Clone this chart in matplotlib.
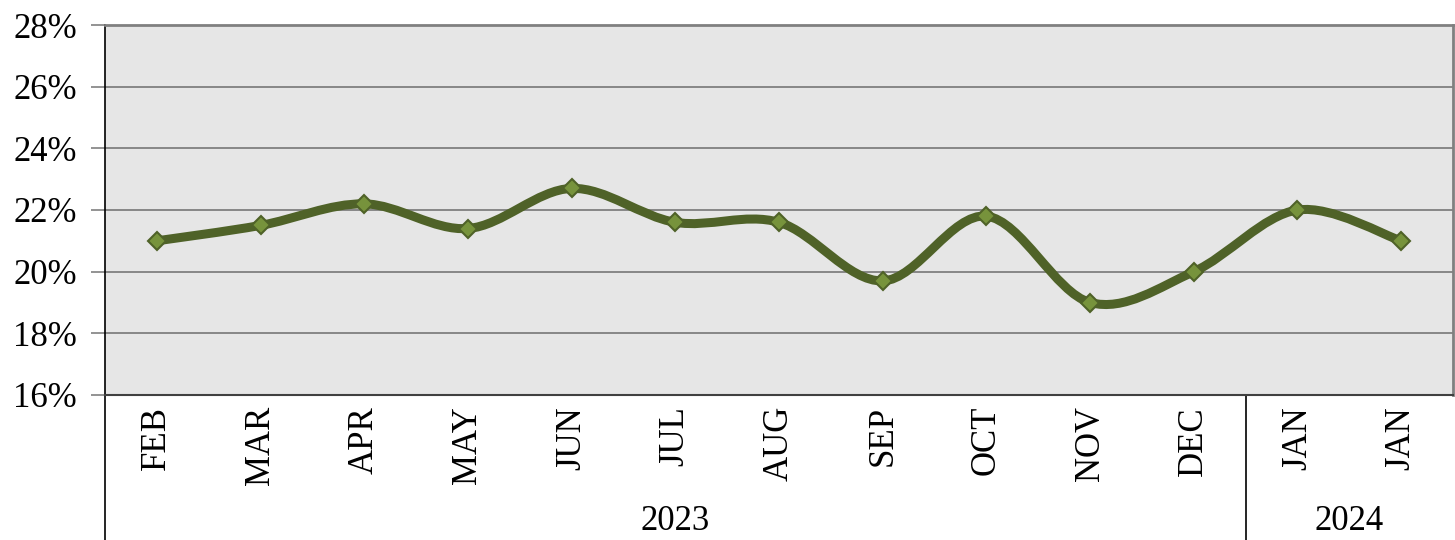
import matplotlib

matplotlib.use("Agg")

import matplotlib.pyplot as plt
import numpy as np
from matplotlib.lines import Line2D
from matplotlib.patches import PathPatch
from matplotlib.path import Path
from matplotlib.ticker import FuncFormatter

# ---- data ------------------------------------------------------------------
MONTHS = ["FEB", "MAR", "APR", "MAY", "JUN", "JUL", "AUG",
          "SEP", "OCT", "NOV", "DEC", "JAN", "JAN"]
VALUES = [21.0, 21.5, 22.2, 21.4, 22.7, 21.6, 21.6,
          19.7, 21.8, 19.0, 20.0, 22.0, 21.0]
YEARS = ["2023", "2024"]
YEAR_SPANS = [(0, 10), (11, 12)]  # first/last month index for each year

LINE = "#4f6228"
MARK = "#77933c"
GRID = "#808080"

plt.rcParams["font.family"] = ["Liberation Serif", "DejaVu Serif"]

fig = plt.figure(figsize=(14.55, 5.4), dpi=100)
ax = fig.add_axes([105 / 1455, 145 / 540, 1348 / 1455, 370 / 540])
ax.set_facecolor("#e6e6e6")

x = np.arange(len(VALUES))
y = np.array(VALUES)

# smoothed line, Excel-style bezier through the points
pts = np.column_stack([x, y]).astype(float)
padded = np.vstack([pts[0], pts, pts[-1]])
verts = [tuple(pts[0])]
codes = [Path.MOVETO]
for i in range(len(pts) - 1):
    p0, p1, p2, p3 = padded[i], padded[i + 1], padded[i + 2], padded[i + 3]
    c1 = p1 + (p2 - p0) / 6.0
    c2 = p2 - (p3 - p1) / 6.0
    verts += [tuple(c1), tuple(c2), tuple(p2)]
    codes += [Path.CURVE4] * 3
ax.add_patch(PathPatch(Path(verts, codes), facecolor="none", edgecolor=LINE,
                       lw=6.5, capstyle="round", joinstyle="round", zorder=3))
ax.plot(x, y, ls="none", marker="D", ms=9, mfc=MARK, mec=LINE, mew=1.5, zorder=4)

ax.set_xlim(-0.5, len(VALUES) - 0.5)
ax.set_ylim(16, 28)
ax.set_yticks(np.arange(16, 29, 2))
ax.yaxis.set_major_formatter(FuncFormatter(lambda v, _: f"{v:.0f}%"))
ax.grid(axis="y", color=GRID, lw=1.3)
ax.set_axisbelow(True)
ax.tick_params(axis="y", length=10, width=1.2, color=GRID, labelsize=25, pad=10)

ax.set_xticks(x)
ax.set_xticklabels(MONTHS, rotation=90, fontsize=25)
ax.tick_params(axis="x", length=0, pad=8)

for side in ("top", "right"):
    ax.spines[side].set_color(GRID)
    ax.spines[side].set_linewidth(2)
ax.spines["left"].set_color("black")
ax.spines["left"].set_linewidth(1.2)
ax.spines["bottom"].set_color("#404040")
ax.spines["bottom"].set_linewidth(1.5)

# category group lines and year labels below the axis
depth = -145 / 370
trans = ax.get_xaxis_transform()
ax.add_line(Line2D([-0.5, -0.5], [0, depth], transform=trans,
                   color="black", lw=1.2, clip_on=False))
for (a, b), year in zip(YEAR_SPANS, YEARS):
    if a > 0:
        ax.add_line(Line2D([a - 0.5, a - 0.5], [0, depth], transform=trans,
                           color="black", lw=1.2, clip_on=False))
    ax.text((a + b) / 2, -127 / 370, year, transform=trans, ha="center",
            va="center", fontsize=25)

fig.savefig("out.png", dpi=100, facecolor="white")
